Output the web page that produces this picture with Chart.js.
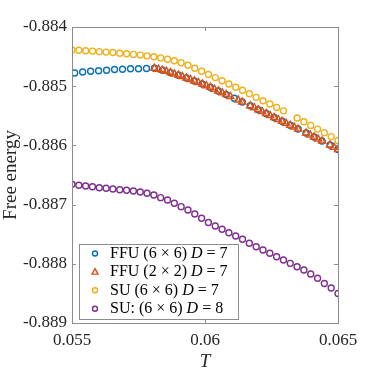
<!DOCTYPE html>
<html>
<head>
<meta charset="utf-8">
<script src="https://cdn.jsdelivr.net/npm/chart.js@4.4.1/dist/chart.umd.min.js"></script>
<style>
  html, body { margin: 0; padding: 0; background: #fff; }
  #chart { display: block; }
</style>
</head>
<body>
<canvas id="chart" width="374" height="374"></canvas>
<script>
// ===== DATA =====

// SU runs share one temperature grid (40 points)
const suTemps = [
  0.055, 0.055256, 0.055513, 0.055769, 0.056026, 0.056282, 0.056538, 0.056795, 0.057051, 0.057308,
  0.057564, 0.057821, 0.058077, 0.058333, 0.05859, 0.058846, 0.059103, 0.059359, 0.059615, 0.059872,
  0.060128, 0.060385, 0.060641, 0.060897, 0.061154, 0.06141, 0.061667, 0.061923, 0.062179, 0.062436,
  0.062692, 0.062949, 0.063205, 0.063462, 0.063718, 0.063974, 0.064231, 0.064487, 0.064744, 0.065
];

const su7Energy = [
  -0.884389, -0.884394, -0.8844, -0.884407, -0.884416, -0.884424, -0.884432, -0.884443, -0.884453, -0.884463,
  -0.884475, -0.884488, -0.884503, -0.884522, -0.884544, -0.884571, -0.884605, -0.884647, -0.884696, -0.884748,
  -0.884802, -0.884855, -0.884909, -0.884963, -0.885017, -0.885069, -0.885127, -0.885188, -0.885245, -0.885301,
  -0.88536, -0.885416, null, -0.885537, -0.885601, -0.885662, -0.885725, -0.885785, -0.885851, -0.885917
];

const su8Energy = [
  -0.886657, -0.886674, -0.886686, -0.886698, -0.886715, -0.886725, -0.886736, -0.886748, -0.886758, -0.88677,
  -0.886787, -0.886809, -0.886838, -0.886883, -0.886922, -0.886978, -0.887035, -0.887091, -0.887159, -0.887231,
  -0.887302, -0.887361, -0.887417, -0.887475, -0.88753, -0.887586, -0.887654, -0.887711, -0.887767, -0.887823,
  -0.88788, -0.887936, -0.887992, -0.888049, -0.888105, -0.888172, -0.888245, -0.888333, -0.888409, -0.888502
];

// FFU (6x6)
const ffu6Temps = [
  0.0551, 0.0554, 0.0557, 0.056, 0.0563, 0.0566, 0.0569, 0.0572, 0.0575, 0.0578,
  0.0581, 0.0584, 0.0587, 0.059, 0.0593, 0.0596, 0.0599, 0.0602, 0.0605, 0.0608,
  0.0611, 0.0614, 0.0617, 0.062, 0.0623, 0.0626, 0.0629, 0.0632, 0.0635, 0.0638,
  0.0641, 0.0644, 0.0647, 0.065
];
const ffu6Energy = [
  -0.884777, -0.88476, -0.884748, -0.884738, -0.88473, -0.884718, -0.884713, -0.884706, -0.884704, -0.884701,
  -0.884698, -0.88473, -0.88477, -0.884814, -0.884861, -0.884912, -0.884963, -0.885019, -0.885081, -0.885142,
  -0.885204, -0.885267, -0.885331, -0.885397, -0.885461, -0.885529, -0.885593, -0.885659, -0.885723, -0.885791,
  -0.885858, -0.885926, -0.885993, -0.886069
];

// FFU (2x2)
const ffu2Temps = [
  0.0581, 0.05825, 0.0584, 0.05855, 0.0587, 0.05885, 0.059, 0.05915, 0.0593, 0.05945,
  0.0596, 0.05975, 0.0599, 0.06005, 0.0602, 0.06035, 0.0605, 0.06065, 0.0608, 0.06095,
  0.06125, 0.0614, 0.0617, 0.06185, 0.062, 0.06215, 0.0623, 0.06245, 0.0626, 0.06275,
  0.0629, 0.06305, 0.0632, 0.06335, 0.0635, 0.0638, 0.06395, 0.0641, 0.06425, 0.0644,
  0.0647, 0.06485, 0.065
];
const ffu2Energy = [
  -0.884698, -0.884712, -0.88473, -0.884749, -0.88477, -0.884792, -0.884814, -0.884837, -0.884861, -0.884886,
  -0.884912, -0.884937, -0.884963, -0.884991, -0.885019, -0.88505, -0.885081, -0.885111, -0.885142, -0.885173,
  -0.885235, -0.885267, -0.885331, -0.885364, -0.885397, -0.885429, -0.885461, -0.885495, -0.885529, -0.885561,
  -0.885593, -0.885626, -0.885659, -0.885691, -0.885723, -0.885791, -0.885824, -0.885858, -0.885892, -0.885926,
  -0.885993, -0.886031, -0.886069
];

// axis ticks
const xTicks = [0.055, 0.06, 0.065];
const yTicks = [-0.884, -0.885, -0.886, -0.887, -0.888, -0.889];

// legend labels: [plain, italic, plain]
const legendLabels = [
  ['FFU (6 \u00d7 6) ', 'D', ' = 7'],
  ['FFU (2 \u00d7 2) ', 'D', ' = 7'],
  ['SU (6 \u00d7 6) ', 'D', ' = 7'],
  ['SU: (6 \u00d7 6) ', 'D', ' = 8']
];

const colors = ['#0072BD', '#D95319', '#EDB120', '#7E2F8E'];
const SERIF = '"Liberation Serif", "DejaVu Serif", serif';
const AXIS_GREY = '#8c8c8c';

const pts = (xs, ys) => xs.map((x, i) => ({ x: x, y: ys[i] }));

// frame + inward ticks, MATLAB style
const boxPlugin = {
  id: 'box',
  afterDraw(chart) {
    const { ctx, chartArea: a, scales } = chart;
    ctx.save();
    ctx.strokeStyle = AXIS_GREY;
    ctx.lineWidth = 1;
    ctx.strokeRect(Math.round(a.left) + 0.5, Math.round(a.top) + 0.5,
      Math.round(a.right - a.left), Math.round(a.bottom - a.top));
    ctx.beginPath();
    xTicks.forEach(v => {
      const px = Math.round(scales.x.getPixelForValue(v)) + 0.5;
      ctx.moveTo(px, a.bottom); ctx.lineTo(px, a.bottom - 4);
      ctx.moveTo(px, a.top); ctx.lineTo(px, a.top + 4);
    });
    yTicks.forEach(v => {
      const py = Math.round(scales.y.getPixelForValue(v)) + 0.5;
      ctx.moveTo(a.left, py); ctx.lineTo(a.left + 4, py);
      ctx.moveTo(a.right, py); ctx.lineTo(a.right - 4, py);
    });
    ctx.stroke();
    ctx.restore();
  }
};

// legend with italic D
const legendPlugin = {
  id: 'mixedLegend',
  afterDraw(chart) {
    const { ctx, chartArea: a } = chart;
    const bx = a.left + 7, bw = 159, bh = 75;
    const by = a.bottom - 4 - bh;
    ctx.save();
    ctx.fillStyle = '#fff';
    ctx.fillRect(bx, by, bw, bh);
    ctx.strokeStyle = AXIS_GREY;
    ctx.lineWidth = 1;
    ctx.strokeRect(Math.round(bx) + 0.5, Math.round(by) + 0.5, bw, bh);
    ctx.textBaseline = 'middle';
    legendLabels.forEach((parts, i) => {
      const cy = by + 9.5 + i * 18.4;
      const mx = bx + 16;
      ctx.strokeStyle = colors[i];
      ctx.lineWidth = 1.4;
      ctx.beginPath();
      if (i === 1) {
        ctx.moveTo(mx, cy - 3.2);
        ctx.lineTo(mx + 3, cy + 2.2);
        ctx.lineTo(mx - 3, cy + 2.2);
        ctx.closePath();
      } else {
        ctx.arc(mx, cy, 2.5, 0, Math.PI * 2);
      }
      ctx.stroke();
      let tx = bx + 31;
      ctx.fillStyle = '#000';
      parts.forEach((p, j) => {
        ctx.font = (j === 1 ? 'italic ' : '') + '16px ' + SERIF;
        ctx.fillText(p, tx, cy);
        tx += ctx.measureText(p).width;
      });
    });
    ctx.restore();
  }
};

new Chart(document.getElementById('chart'), {
  type: 'scatter',
  data: {
    datasets: [
      {
        label: 'FFU (6x6) D=7', data: pts(ffu6Temps, ffu6Energy), order: 4,
        pointStyle: 'circle', pointRadius: 3, borderWidth: 1.4,
        borderColor: colors[0], backgroundColor: 'rgba(0,0,0,0)'
      },
      {
        label: 'FFU (2x2) D=7', data: pts(ffu2Temps, ffu2Energy), order: 3,
        pointStyle: 'triangle', pointRadius: 4, borderWidth: 1.5,
        borderColor: colors[1], backgroundColor: 'rgba(0,0,0,0)'
      },
      {
        label: 'SU (6x6) D=7', data: pts(suTemps, su7Energy), order: 2,
        pointStyle: 'circle', pointRadius: 3, borderWidth: 1.4,
        borderColor: colors[2], backgroundColor: 'rgba(0,0,0,0)'
      },
      {
        label: 'SU: (6x6) D=8', data: pts(suTemps, su8Energy), order: 1,
        pointStyle: 'circle', pointRadius: 3, borderWidth: 1.4,
        borderColor: colors[3], backgroundColor: 'rgba(0,0,0,0)'
      }
    ]
  },
  options: {
    responsive: false,
    animation: false,
    devicePixelRatio: 1,
    layout: { padding: { left: 0, right: 36, top: 27, bottom: 0 } },
    plugins: {
      legend: { display: false },
      tooltip: { enabled: false }
    },
    scales: {
      x: {
        type: 'linear', min: 0.055, max: 0.065,
        afterBuildTicks: s => { s.ticks = xTicks.map(v => ({ value: v })); },
        afterFit: s => { s.height = 51; },
        grid: { display: false, drawTicks: false },
        border: { display: false },
        ticks: {
          padding: 7, color: '#262626', font: { family: SERIF, size: 17 },
          maxRotation: 0,
          callback: v => String(+v.toFixed(3))
        },
        title: {
          display: true, text: 'T', color: '#262626',
          font: { family: SERIF, size: 19, style: 'italic' },
          padding: { top: 0, bottom: 1 }
        }
      },
      y: {
        type: 'linear', min: -0.889, max: -0.884,
        afterBuildTicks: s => { s.ticks = yTicks.map(v => ({ value: v })); },
        afterFit: s => { s.width = 72; },
        grid: { display: false, drawTicks: false },
        border: { display: false },
        ticks: {
          padding: 5, color: '#262626', font: { family: SERIF, size: 17 },
          callback: v => v.toFixed(3)
        },
        title: {
          display: true, text: 'Free energy', color: '#262626',
          font: { family: SERIF, size: 19 },
          padding: { top: 0, bottom: 0 }
        }
      }
    }
  },
  plugins: [boxPlugin, legendPlugin]
});
</script>
</body>
</html>
